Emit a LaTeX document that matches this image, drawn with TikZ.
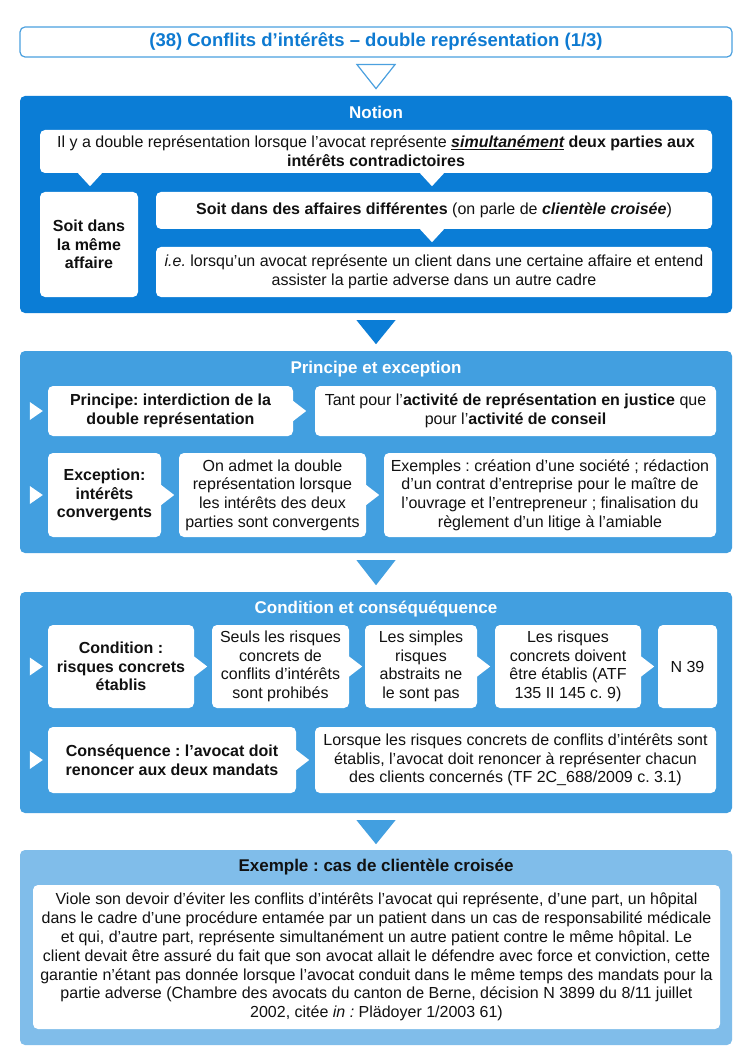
\documentclass[tikz,border=0pt]{standalone}
\usepackage{fontspec}
\setmainfont{Liberation Sans}
\usetikzlibrary{calc}
\frenchspacing
\definecolor{tblue}{HTML}{0E7AD1}
\definecolor{lineblue}{HTML}{4BA0DF}
\definecolor{nblue}{HTML}{0B7DD6}
\definecolor{pblue}{HTML}{429FE0}
\definecolor{eblue}{HTML}{80BDEA}
\definecolor{txt}{HTML}{111111}
\tikzset{
  section/.style={rounded corners=5pt, inner sep=0pt, minimum width=712pt},
  sectitle/.style={inner sep=0pt, font=\fontsize{17}{20}\selectfont\bfseries, text=white},
  wbox/.style={fill=white, rounded corners=5pt, inner sep=0pt, align=center, text=txt,
     font=\fontsize{16}{18.7}\selectfont},
  wboxb/.style={wbox, font=\fontsize{16}{18.7}\selectfont\bfseries},
  tip/.style={fill=white},
}
\newcommand{\rcall}[1]{\fill[tip] ([yshift=10pt]#1.east) -- ([xshift=13pt]#1.east) -- ([yshift=-10pt]#1.east) -- cycle;}
\newcommand{\dcall}[2]{\fill[tip] ($(#1.south)+(#2-12,0)$) -- ($(#1.south)+(#2,13)$) -- ($(#1.south)+(#2+12,0)$) -- cycle;}
\newcommand{\larrow}[1]{\fill[tip] ($(#1.west)+(-18,-9)$) -- ($(#1.west)+(-5,0)$) -- ($(#1.west)+(-18,9)$) -- cycle;}
\begin{document}
\begin{tikzpicture}[x=1pt,y=-1pt]
\useasboundingbox (0,0) rectangle (752,1064);
\fill[white] (0,0) rectangle (752,1064);

% Title
\node[draw=lineblue, line width=1.2pt, rounded corners=5pt, minimum width=712pt, minimum height=30pt, inner sep=0pt,
  font=\fontsize{18.5}{22}\selectfont\bfseries, text=tblue] (title) at (376,42)
  {(38) Conflits d’intérêts – double représentation (1/3)};
\draw[lineblue, line width=1.2pt, line join=miter] ($(title.south)+(-19,7)$) -- ($(title.south)+(19,7)$) -- ($(title.south)+(0,31)$) -- cycle;

% Notion
\node[section, fill=nblue, minimum height=217pt] (notion) at (376,204.5) {};
\node[sectitle] (notionT) at (376,112) {Notion};
\node[wbox, minimum width=672pt, minimum height=43pt] (n1) at (376,151.5)
  {Il y a double représentation lorsque l’avocat représente \textbf{\textit{\underline{simultanément}}} \textbf{deux parties aux}\\ \textbf{intérêts contradictoires}};
\dcall{n1}{-286}
\dcall{n1}{56}
\node[wboxb, minimum width=98pt, minimum height=105pt] (n2) at (89,244.5) {Soit dans\\la même\\affaire};
\node[wbox, minimum width=556pt, minimum height=37pt] (n3) at (434,210.5)
  {\textbf{Soit dans des affaires différentes} (on parle de \textbf{\textit{clientèle croisée}})};
\dcall{n3}{-2}
\node[wbox, minimum width=556pt, minimum height=50pt] (n4) at (434,272)
  {\textit{i.e.} lorsqu’un avocat représente un client dans une certaine affaire et entend\\assister la partie adverse dans un autre cadre};

% arrow 1
\fill[nblue] ($(notion.south)+(-19.5,7)$) -- ($(notion.south)+(19.5,7)$) -- ($(notion.south)+(0,31)$) -- cycle;

% Principe
\node[section, fill=pblue, minimum height=202pt] (princ) at (376,452) {};
\node[sectitle] (princT) at (376,369) {Principe et exception};
\node[wboxb, minimum width=245pt, minimum height=50pt] (p1) at (170.5,411) {Principe: interdiction de la\\double représentation};
\node[wbox, minimum width=401pt, minimum height=50pt] (p2) at (515.5,411)
  {Tant pour l’\textbf{activité de représentation en justice} que\\pour l’\textbf{activité de conseil}};
\node[wboxb, minimum width=113pt, minimum height=84pt] (p3) at (104.5,495) {Exception:\\intérêts\\convergents};
\node[wbox, minimum width=187pt, minimum height=84pt] (p4) at (272.5,495)
  {On admet la double\\représentation lorsque\\les intérêts des deux\\parties sont convergents};
\node[wbox, minimum width=332pt, minimum height=84pt] (p5) at (550,495)
  {Exemples : création d’une société ; rédaction\\d’un contrat d’entreprise pour le maître de\\l’ouvrage et l’entrepreneur ; finalisation du\\règlement d’un litige à l’amiable};
\rcall{p1}\rcall{p3}\rcall{p4}
\larrow{p1}\larrow{p3}

% arrow 2
\fill[pblue] ($(princ.south)+(-19.5,7)$) -- ($(princ.south)+(19.5,7)$) -- ($(princ.south)+(0,32)$) -- cycle;

% Condition
\node[section, fill=pblue, minimum height=221pt] (cond) at (376,702.5) {};
\node[sectitle] (condT) at (376,609) {Condition et conséquéquence};
\node[wboxb, minimum width=146pt, minimum height=83pt] (c1) at (121,666.5) {Condition :\\risques concrets\\établis};
\node[wbox, minimum width=137pt, minimum height=83pt] (c2) at (280.5,666.5) {Seuls les risques\\concrets de\\conflits d’intérêts\\sont prohibés};
\node[wbox, minimum width=112pt, minimum height=83pt] (c3) at (421,666.5) {Les simples\\risques\\abstraits ne\\le sont pas};
\node[wbox, minimum width=146pt, minimum height=83pt] (c4) at (568,666.5) {Les risques\\concrets doivent\\être établis (ATF\\135 II 145 c. 9)};
\node[wbox, minimum width=59pt, minimum height=83pt] (c5) at (687.5,666.5) {N 39};
\rcall{c1}\rcall{c2}\rcall{c3}\rcall{c4}
\larrow{c1}
\node[wboxb, minimum width=248pt, minimum height=66pt] (c6) at (172,760) {Conséquence : l’avocat doit\\renoncer aux deux mandats};
\node[wbox, minimum width=401pt, minimum height=66pt] (c7) at (515.5,760)
  {Lorsque les risques concrets de conflits d’intérêts sont\\établis, l’avocat doit renoncer à représenter chacun\\des clients concernés (TF 2C\_688/2009 c. 3.1)};
\rcall{c6}
\larrow{c6}

% arrow 3
\fill[pblue] ($(cond.south)+(-19.5,7)$) -- ($(cond.south)+(19.5,7)$) -- ($(cond.south)+(0,31)$) -- cycle;

% Exemple
\node[section, fill=eblue, minimum height=195pt] (ex) at (376,947.5) {};
\node[sectitle, text=txt] (exT) at (376,867) {Exemple : cas de clientèle croisée};
\node[wbox, minimum width=687pt, minimum height=144pt, font=\fontsize{16}{18.8}\selectfont] (e1) at (376.5,957)
  {Viole son devoir d’éviter les conflits d’intérêts l’avocat qui représente, d’une part, un hôpital\\
   dans le cadre d’une procédure entamée par un patient dans un cas de responsabilité médicale\\
   et qui, d’autre part, représente simultanément un autre patient contre le même hôpital. Le\\
   client devait être assuré du fait que son avocat allait le défendre avec force et conviction, cette\\
   garantie n’étant pas donnée lorsque l’avocat conduit dans le même temps des mandats pour la\\
   partie adverse (Chambre des avocats du canton de Berne, décision N 3899 du 8/11 juillet\\
   2002, citée \textit{in :} Plädoyer 1/2003 61)};
\end{tikzpicture}
\end{document}
